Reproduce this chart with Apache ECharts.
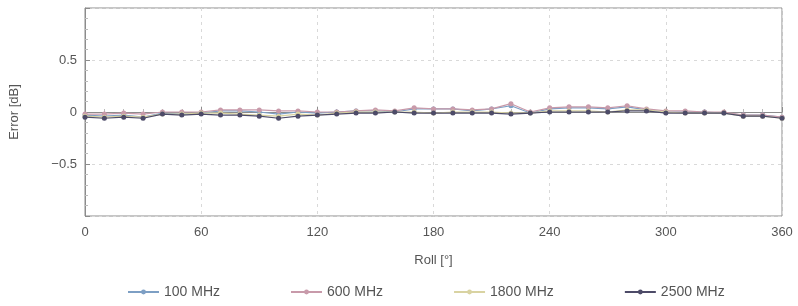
<!DOCTYPE html>
<html>
<head>
<meta charset="utf-8">
<script src="https://cdn.jsdelivr.net/npm/echarts@6/dist/echarts.min.js"></script>
<style>
  html, body { margin: 0; padding: 0; background: #fff; }
  #chart { width: 798px; height: 306px; }
</style>
</head>
<body>
<div id="chart"></div>
<script>
// roll angle, every 10 degrees
var roll = [];
for (var r = 0; r <= 360; r += 10) roll.push(r);

var names = ["100 MHz", "600 MHz", "1800 MHz", "2500 MHz"];
var colors = ["#7d9fc4", "#c89aaa", "#d9d3a2", "#4d4b68"];

// error values [dB]
var err100  = [-0.03,-0.04,-0.03,-0.05,-0.01,-0.02,-0.01, 0.01, 0.01, 0.00,-0.02, 0.00,-0.01, 0.00, 0.01, 0.01, 0.00, 0.03, 0.03, 0.03, 0.01, 0.03, 0.06,-0.01, 0.03, 0.04, 0.04, 0.03, 0.05, 0.02, 0.00, 0.00, 0.00,-0.01,-0.03,-0.03,-0.05];
var err600  = [-0.02,-0.02,-0.01,-0.02, 0.00, 0.00, 0.00, 0.02, 0.02, 0.02, 0.01, 0.01, 0.00, 0.00, 0.01, 0.02, 0.01, 0.04, 0.03, 0.03, 0.02, 0.03, 0.08, 0.00, 0.04, 0.05, 0.05, 0.04, 0.06, 0.03, 0.01, 0.01, 0.00, 0.00,-0.03,-0.03,-0.05];
var err1800 = [-0.04,-0.05,-0.04,-0.05,-0.02,-0.02,-0.01,-0.01,-0.02,-0.03,-0.04,-0.02,-0.03,-0.01, 0.00, 0.00, 0.00, 0.00,-0.01, 0.00, 0.00, 0.00,-0.01,-0.01, 0.01, 0.01, 0.01, 0.00, 0.02, 0.02, 0.00,-0.01,-0.01,-0.01,-0.04,-0.04,-0.06];
var err2500 = [-0.05,-0.06,-0.05,-0.06,-0.02,-0.03,-0.02,-0.03,-0.03,-0.04,-0.06,-0.04,-0.03,-0.02,-0.01,-0.01, 0.00,-0.01,-0.01,-0.01,-0.01,-0.01,-0.02,-0.01, 0.00, 0.00, 0.00, 0.00, 0.01, 0.01,-0.01,-0.01,-0.01,-0.01,-0.04,-0.04,-0.06];

var allErr = [err100, err600, err1800, err2500];

function pairs(ys) {
    var out = [];
    for (var i = 0; i < roll.length; i++) out.push([roll[i], ys[i]]);
    return out;
}

var series = [];
for (var k = 0; k < names.length; k++) {
    series.push({
        name: names[k],
        type: "line",
        data: pairs(allErr[k]),
        symbol: "circle",
        symbolSize: 5,
        lineStyle: { width: 1.2, color: colors[k] },
        itemStyle: { color: colors[k] },
        z: 2 + k
    });
}

var chart = echarts.init(document.getElementById("chart"));
chart.setOption({
    animation: false,
    textStyle: { fontFamily: "Liberation Sans, Arial, sans-serif" },
    grid: { left: 85, right: 16, top: 8, bottom: 90, show: true, borderColor: "#8c8c8c", borderWidth: 1 },
    legend: {
        data: names,
        bottom: 2,
        left: 122,
        itemGap: 70,
        itemWidth: 31,
        itemHeight: 6,
        textStyle: { color: "#555", fontSize: 14 }
    },
    xAxis: {
        type: "value",
        min: 0, max: 360, interval: 60,
        name: "Roll [°]",
        nameLocation: "middle",
        nameGap: 38,
        nameTextStyle: { color: "#555", fontSize: 13 },
        axisLine: { lineStyle: { color: "#8c8c8c" } },
        axisTick: { inside: true, length: 5, lineStyle: { color: "#8c8c8c" } },
        minorTick: { show: true, splitNumber: 6, length: 3, lineStyle: { color: "#bbb" } },
        axisLabel: { color: "#555", fontSize: 13, margin: 10 },
        splitLine: { show: true, lineStyle: { color: "#d9d9d9", type: [3, 4] } }
    },
    yAxis: {
        type: "value",
        min: -1, max: 1, interval: 0.5,
        name: "Error [dB]",
        nameLocation: "middle",
        nameGap: 64,
        nameTextStyle: { color: "#555", fontSize: 13 },
        axisLine: { show: true, lineStyle: { color: "#8c8c8c" } },
        axisTick: { show: true, inside: true, length: 5, lineStyle: { color: "#8c8c8c" } },
        minorTick: { show: true, splitNumber: 5, length: 3, lineStyle: { color: "#bbb" } },
        axisLabel: {
            color: "#555", fontSize: 13, margin: 8,
            formatter: function (v) {
                if (Math.abs(v) === 1) return "";
                if (v < 0) return "\u2212" + Math.abs(v);
                return String(v);
            }
        },
        splitLine: { show: true, lineStyle: { color: "#d9d9d9", type: [3, 4] } }
    },
    series: series
});
</script>
</body>
</html>
